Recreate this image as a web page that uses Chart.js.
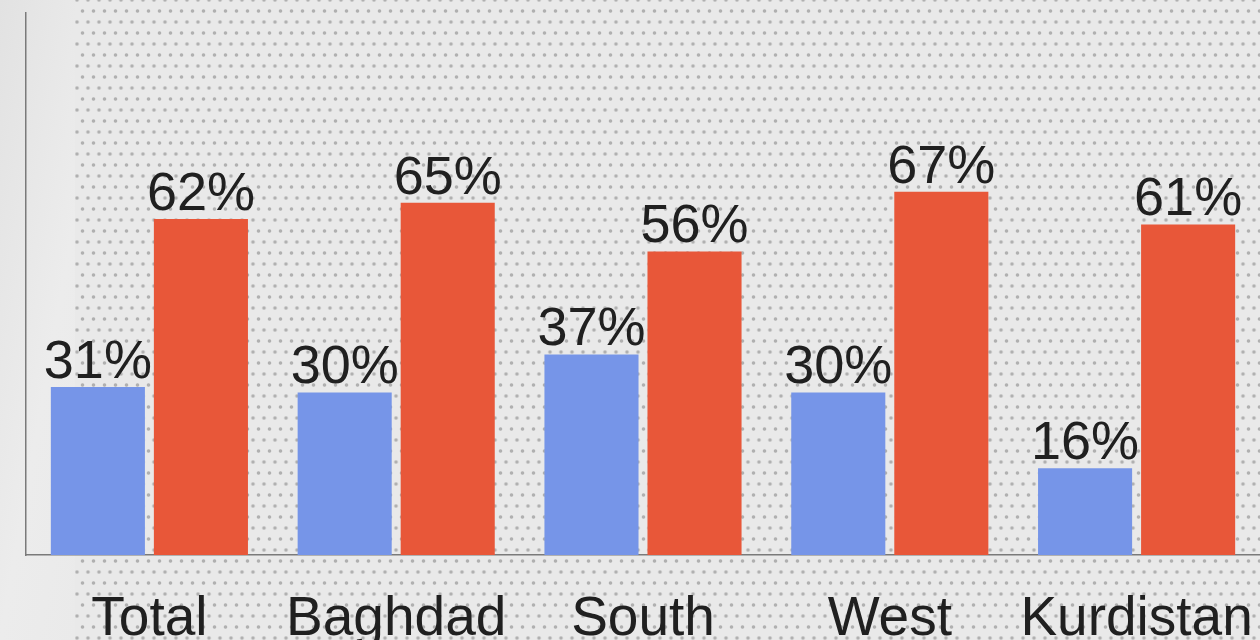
<!DOCTYPE html>
<html>
<head>
<meta charset="utf-8">
<script src="https://cdn.jsdelivr.net/npm/chart.js@4.4.0/dist/chart.umd.min.js"></script>
<style>
    html, body { margin: 0; padding: 0; }
    #wrap {
        position: relative;
        width: 1260px;
        height: 640px;
        overflow: hidden;
        background-color: #e9e9e9;
        background-image:
            radial-gradient(circle, #b0b0b0 1.2px, transparent 2.2px),
            radial-gradient(circle, #b0b0b0 1.2px, transparent 2.2px);
        background-size: 11px 22px, 11px 22px;
        background-position: 0 0, 5.5px 11px;
    }
    #leftStrip {
        position: absolute;
        left: 0; top: 0;
        width: 75px; height: 640px;
        background: linear-gradient(100deg, #e2e2e2 0%, #ececec 60%, #eaeaea 100%);
    }
    canvas { position: absolute; left: 0; top: 0; }
</style>
</head>
<body>
<div id="wrap">
    <div id="leftStrip"></div>
    <canvas id="chart" width="1260" height="640"></canvas>
</div>
<script>
const regions = ['Total', 'Baghdad', 'South', 'West', 'Kurdistan'];
const blueValues = [31, 30, 37, 30, 16];
const orangeValues = [62, 65, 56, 67, 61];

const FONT = '"Liberation Sans", Arial, sans-serif';

// Value labels above each bar
const barLabels = {
    id: 'barLabels',
    afterDatasetsDraw(chart) {
        const ctx = chart.ctx;
        ctx.save();
        ctx.font = '54px ' + FONT;
        ctx.fillStyle = '#202020';
        ctx.textAlign = 'center';
        ctx.textBaseline = 'alphabetic';
        chart.data.datasets.forEach((ds, i) => {
            chart.getDatasetMeta(i).data.forEach((bar, j) => {
                ctx.fillText(ds.data[j] + '%', bar.x, bar.y - 9);
            });
        });
        ctx.restore();
    }
};

new Chart(document.getElementById('chart').getContext('2d'), {
    type: 'bar',
    data: {
        labels: regions,
        datasets: [
            {
                data: blueValues,
                backgroundColor: '#7695e8',
                categoryPercentage: 0.835,
                barPercentage: 0.913
            },
            {
                data: orangeValues,
                backgroundColor: '#e85739',
                categoryPercentage: 0.835,
                barPercentage: 0.913
            }
        ]
    },
    options: {
        responsive: false,
        animation: false,
        layout: {
            padding: { left: 0, right: 0, top: 13, bottom: 0 }
        },
        plugins: {
            legend: { display: false },
            tooltip: { enabled: false }
        },
        scales: {
            x: {
                grid: { display: false, drawTicks: false },
                border: { display: true, color: '#7a7a7a', width: 1.5 },
                ticks: {
                    color: '#202020',
                    padding: 32,
                    font: { family: FONT, size: 55, lineHeight: 1.2 },
                    maxRotation: 0,
                    autoSkip: false
                },
                afterFit(scale) {
                    scale.height = 85;
                    scale.paddingLeft = 0;
                    scale.paddingRight = 0;
                }
            },
            y: {
                min: 0,
                max: 100,
                grid: { display: false, drawTicks: false },
                border: { display: true, color: '#7a7a7a', width: 1.5 },
                ticks: { display: false },
                afterFit(scale) { scale.width = 26; }
            }
        }
    },
    plugins: [barLabels]
});
</script>
</body>
</html>
